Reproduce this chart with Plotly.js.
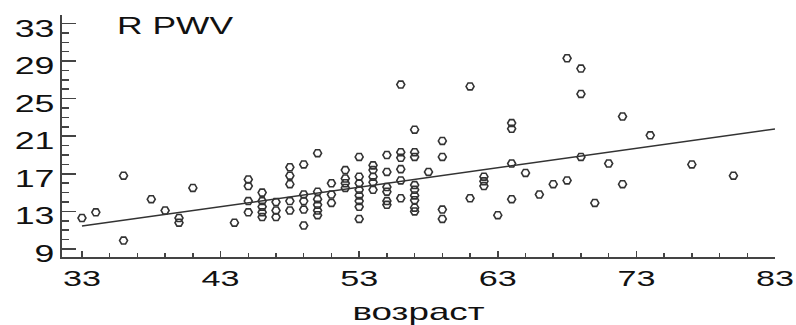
<!DOCTYPE html>
<html>
<head>
<meta charset="utf-8">
<script src="https://cdn.plot.ly/plotly-3.0.1.min.js"></script>
<style>
  html, body { margin: 0; padding: 0; background: #fff; }
  #chart { width: 796px; height: 325px; }
</style>
</head>
<body>
<div id="chart"></div>
<script>
// Age (x) and right PWV (y)
const ageX = [33,34,36,36,38,39,40,40,41,44,
  45,45,45,45,46,46,46,46,46,47,47,47,
  48,48,48,48,48,49,49,49,49,49,
  50,50,50,50,50,50,51,51,51,
  52,52,52,52,53,53,53,53,53,53,53,53,
  54,54,54,54,54,55,55,55,55,55,55,
  56,56,56,56,56,56,57,57,57,57,57,57,57,57,57,
  58,59,59,59,59,61,61,62,62,62,63,
  64,64,64,64,65,66,67,68,68,69,69,69,70,71,72,72,74,77,80];
const pwvY = [12.3,12.9,16.8,9.9,14.3,13.1,12.3,11.8,15.5,11.8,
  16.4,15.7,14.1,12.9,15.0,14.1,13.5,12.9,12.4,14.0,13.1,12.4,
  17.7,16.8,15.9,14.1,13.1,18.0,14.8,14.1,13.2,11.5,
  19.2,15.1,14.3,13.7,13.1,12.6,16.0,14.8,13.9,
  17.4,16.5,16.0,15.5,18.8,16.7,16.0,15.3,14.7,14.1,13.5,12.2,
  17.9,17.4,16.7,16.1,15.3,19.0,17.2,15.6,15.1,14.1,13.7,
  26.5,19.3,18.7,17.5,16.3,14.4,21.7,19.3,18.8,15.8,15.3,14.7,14.2,13.4,13.0,
  17.2,20.5,18.8,13.2,12.2,26.3,14.4,16.7,16.2,15.7,12.6,
  22.4,21.8,18.1,14.3,17.1,14.8,15.9,29.3,16.3,28.2,25.5,18.8,13.9,18.1,23.1,15.9,21.1,18.0,16.8];

// Regression line end points
const fitX = [33, 83];
const fitY = [11.45, 21.77];

// Tick labels
const xTicks = [33, 43, 53, 63, 73, 83];
const yTicks = [9, 13, 17, 21, 25, 29, 33];

const chartTitle = 'R PWV';
const xTitle = 'возраст';

const FONT = '"Liberation Sans", Arial, sans-serif';

const traces = [
  {
    x: ageX, y: pwvY, type: 'scatter', mode: 'markers',
    marker: { symbol: 'hexagon2-open', size: 8, color: '#333', line: { width: 1.6, color: '#333' } },
    hoverinfo: 'skip'
  },
  {
    x: fitX, y: fitY, type: 'scatter', mode: 'lines',
    line: { color: '#333', width: 1.5 },
    hoverinfo: 'skip'
  }
];

const layout = {
  width: 796, height: 325,
  margin: { l: 62, r: 21, t: 15, b: 68 },
  paper_bgcolor: '#fff', plot_bgcolor: '#fff',
  showlegend: false,
  font: { family: FONT, color: '#111' },
  title: {
    text: chartTitle,
    font: { family: FONT, size: 23, color: '#111' },
    xref: 'container', x: 117 / 796, xanchor: 'left',
    yref: 'container', y: 1 - 26 / 325, yanchor: 'middle'
  },
  xaxis: {
    range: [31.56, 83],
    tickvals: xTicks, ticktext: xTicks.map(String),
    ticks: 'inside', ticklen: 6, tickwidth: 1.5, tickcolor: '#444',
    minor: { dtick: 2, tick0: 33, ticks: 'inside', ticklen: 4, tickwidth: 1.5, tickcolor: '#444', showgrid: false },
    showline: true, linecolor: '#444', linewidth: 2,
    showgrid: false, zeroline: false,
    tickfont: { family: FONT, size: 22, color: '#111' },
    ticklabelstandoff: 1,
    title: { text: xTitle, font: { family: FONT, size: 24, color: '#111' }, standoff: 14 }
  },
  yaxis: {
    range: [8.15, 33.9],
    tickvals: yTicks, ticktext: yTicks.map(String),
    ticks: 'inside', ticklen: 14, tickwidth: 1.5, tickcolor: '#444',
    minor: { dtick: 1, tick0: 9, ticks: 'inside', ticklen: 7, tickwidth: 1.5, tickcolor: '#444', showgrid: false },
    showline: true, linecolor: '#444', linewidth: 2,
    showgrid: false, zeroline: false,
    tickfont: { family: FONT, size: 23, color: '#111' },
    ticklabelshift: 5,
    ticklabelstandoff: 1
  }
};

function stretchText() {
  const gd = document.getElementById('chart');
  gd.querySelectorAll('.xtick text, .ytick text').forEach(t => {
    const w = t.getComputedTextLength();
    t.setAttribute('textLength', (w * 1.55).toFixed(1));
    t.setAttribute('lengthAdjust', 'spacingAndGlyphs');
  });
  const tt = gd.querySelector('.gtitle');
  if (tt) {
    tt.setAttribute('textLength', '116');
    tt.setAttribute('lengthAdjust', 'spacingAndGlyphs');
  }
  const xt = gd.querySelector('.xtitle');
  if (xt) {
    xt.setAttribute('textLength', '132');
    xt.setAttribute('lengthAdjust', 'spacingAndGlyphs');
  }
}

Plotly.newPlot('chart', traces, layout, { staticPlot: true, displayModeBar: false }).then(stretchText);
</script>
</body>
</html>
